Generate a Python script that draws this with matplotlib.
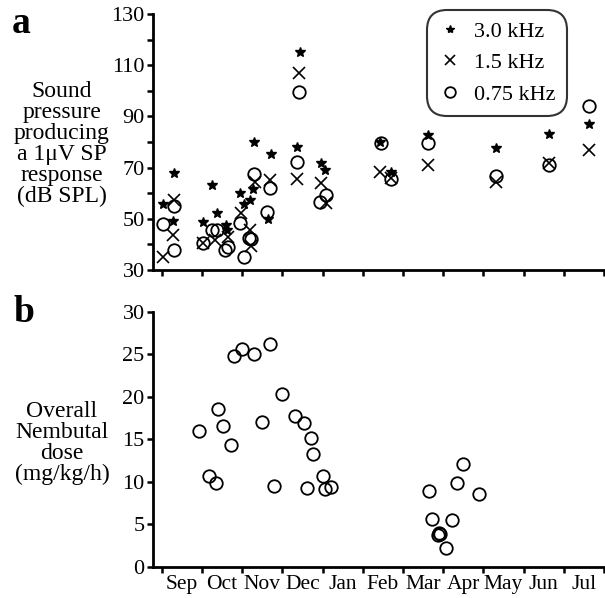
import matplotlib
matplotlib.use("Agg")
import matplotlib.pyplot as plt
from matplotlib.ticker import FixedLocator, MultipleLocator

plt.rcParams['font.family'] = ['Liberation Serif', 'DejaVu Serif']

months = ['Sep', 'Oct', 'Nov', 'Dec', 'Jan', 'Feb', 'Mar', 'Apr', 'May', 'Jun', 'Jul']
db_ticks = [30, 50, 70, 90, 110, 130]

# panel a: threshold (dB SPL) vs time in months since start of Sep
t30 = [0.02, 0.31, 0.28, 1.03, 1.24, 1.36, 1.59, 1.62, 1.94, 2.04, 2.19, 2.27, 2.30,
       2.71, 2.64, 3.43, 3.37, 3.95, 4.05, 5.42, 5.71, 6.62, 8.31, 9.63, 10.63]
db30 = [55.8, 68.0, 49.3, 48.9, 63.2, 52.1, 47.6, 45.6, 60.0, 55.8, 57.3, 61.5, 80.1,
        75.2, 50.0, 115.0, 78.2, 71.7, 69.1, 80.1, 68.4, 82.7, 77.5, 83.0, 87.0]

t15 = [0.02, 0.28, 0.30, 1.03, 1.32, 1.65, 1.98, 2.19, 2.23, 2.31, 2.70, 3.42, 3.37,
       3.95, 4.08, 5.42, 5.71, 6.62, 8.31, 9.63, 10.63]
db15 = [35.2, 43.7, 57.2, 40.7, 41.7, 42.7, 52.3, 45.6, 39.2, 64.5, 65.2, 106.8, 65.4,
        64.1, 56.1, 68.4, 65.8, 71.0, 64.5, 71.7, 76.9]

t075 = [0.02, 0.30, 0.30, 1.03, 1.26, 1.36, 1.57, 1.65, 1.94, 2.04, 2.17, 2.23, 2.29,
        2.62, 2.70, 3.42, 3.37, 3.93, 4.08, 5.44, 5.71, 6.62, 8.31, 9.63, 10.63]
db075 = [48.0, 37.8, 55.0, 40.7, 45.6, 45.6, 37.8, 39.1, 48.5, 35.0, 42.4, 42.0, 67.5,
         52.8, 61.9, 99.4, 72.3, 56.7, 59.3, 79.7, 65.4, 79.7, 66.7, 71.0, 94.1]

# panel b: Nembutal dose
t_dose = [0.93, 1.18, 1.34, 1.40, 1.51, 1.73, 1.80, 2.00, 2.30, 2.48, 2.70, 2.79, 3.00,
          3.31, 3.53, 3.61, 3.71, 3.76, 4.00, 4.07, 4.20,
          7.48, 7.35, 6.65, 7.89, 6.71, 7.22, 6.90, 6.87, 6.93, 7.08]
dose = [16.0, 10.7, 9.9, 18.6, 16.6, 14.3, 24.8, 25.6, 25.0, 17.0, 26.2, 9.5, 20.3,
        17.7, 16.9, 9.3, 15.2, 13.3, 10.7, 9.2, 9.4,
        12.1, 9.9, 8.9, 8.6, 5.6, 5.5, 4.0, 3.7, 3.9, 2.2]

fig = plt.figure(figsize=(6.05, 5.98), dpi=100)
W, H = 605, 598
ax1 = fig.add_axes([153 / W, 1 - 270 / H, 451 / W, 256 / H])
ax2 = fig.add_axes([153 / W, 1 - 566.7 / H, 451 / W, 255 / H])


def style(ax):
    for s in ['top', 'right']:
        ax.spines[s].set_visible(False)
    for s in ['left', 'bottom']:
        ax.spines[s].set_linewidth(2)
    ax.set_xlim(-0.22, 11.0)
    ax.xaxis.set_major_locator(FixedLocator(range(12)))
    ax.tick_params(which='both', direction='out', length=4, width=1.8, labelsize=16, pad=2)


style(ax1)
ax1.plot(t30, db30, ls='none', marker='*', ms=7, color='black', label='3.0 kHz')
ax1.plot(t15, db15, ls='none', marker='x', ms=8, mew=1.2, color='black', label='1.5 kHz')
ax1.plot(t075, db075, ls='none', marker='o', ms=9, mew=1.3, mfc='none', color='black', label='0.75 kHz')
ax1.set_ylim(30, 130)
ax1.yaxis.set_major_locator(FixedLocator(db_ticks))
ax1.yaxis.set_minor_locator(MultipleLocator(10))
ax1.set_xticklabels([])
leg = ax1.legend(loc='upper right', bbox_to_anchor=(0.918, 1.016), borderaxespad=0,
                 fontsize=16, frameon=True, fancybox=True, edgecolor='black',
                 handletextpad=0.55, labelspacing=0.5, borderpad=0.5, handlelength=1.1,
                 markerscale=0.85)
leg.get_frame().set_linewidth(1.5)
leg.get_frame().set_boxstyle('round', pad=0.0, rounding_size=0.9)

style(ax2)
ax2.plot(t_dose, dose, ls='none', marker='o', ms=9, mew=1.3, mfc='none', color='black')
ax2.set_ylim(0, 30)
ax2.yaxis.set_major_locator(MultipleLocator(5))
ax2.xaxis.set_minor_locator(FixedLocator([i + 0.5 for i in range(11)]))
ax2.xaxis.set_minor_formatter(plt.FixedFormatter(months))
ax2.set_xticklabels([])
ax2.tick_params(axis='x', which='minor', length=0, labelsize=15.5, pad=6)

fig.text(12 / W, 1 - 33 / H, 'a', fontsize=27, fontweight='bold', ha='left', va='baseline')
fig.text(14 / W, 1 - 322 / H, 'b', fontsize=27, fontweight='bold', ha='left', va='baseline')
fig.text(62 / W, 1 - 144 / H, 'Sound\npressure\nproducing\na 1μV SP\nresponse\n(dB SPL)',
         fontsize=17, ha='center', va='center', linespacing=1.0)
fig.text(62 / W, 1 - 443 / H, 'Overall\nNembutal\ndose\n(mg/kg/h)',
         fontsize=17, ha='center', va='center', linespacing=1.0)

fig.savefig('out.png', dpi=100)
